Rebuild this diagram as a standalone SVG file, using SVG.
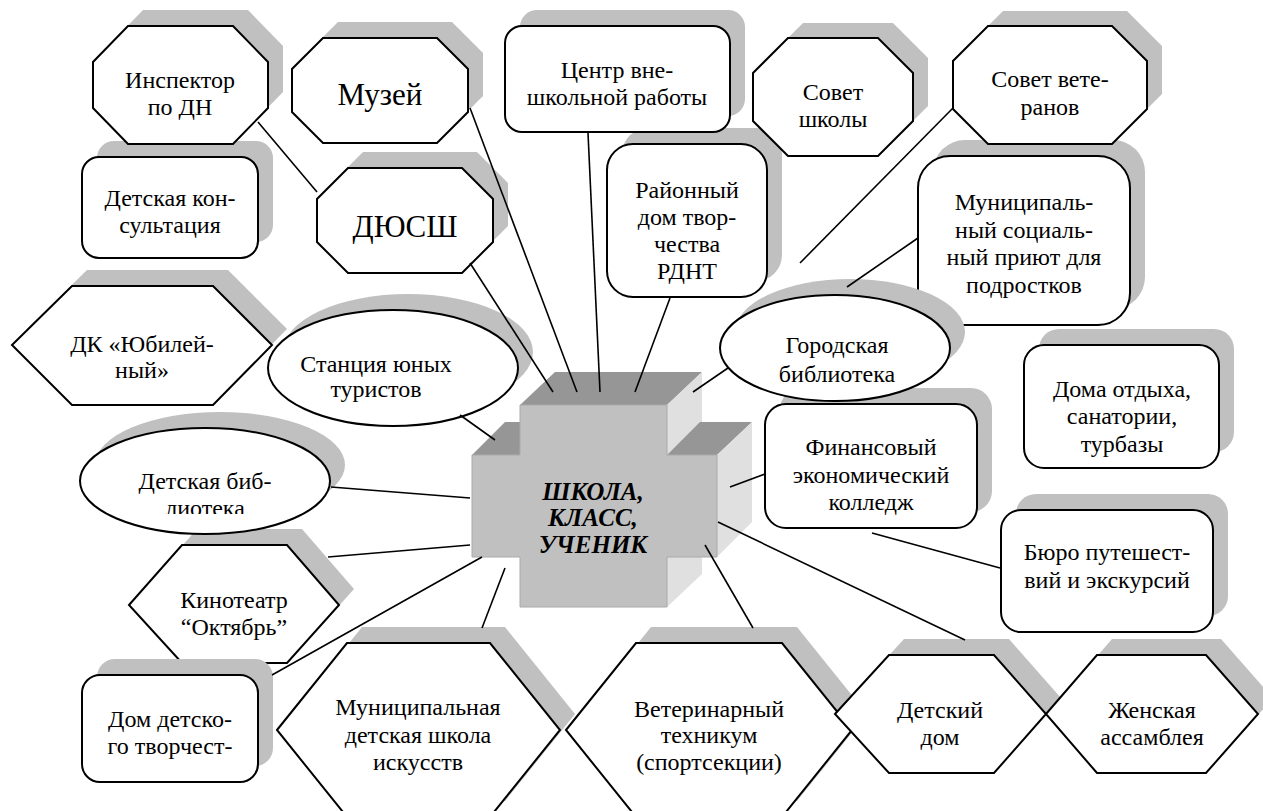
<svg xmlns="http://www.w3.org/2000/svg" width="1263" height="811" viewBox="0 0 1263 811">
<style>
.sh{fill:#c0c0c0;stroke:none}
.nd{fill:#fff;stroke:#000;stroke-width:2}
.t{font-family:'Liberation Serif','Times New Roman','DejaVu Serif',serif;font-size:24px;text-anchor:middle;fill:#000}
.big{font-size:31px}
.ct{font-family:'Liberation Serif','Times New Roman','DejaVu Serif',serif;font-size:25px;font-weight:bold;font-style:italic;text-anchor:middle;fill:#000}
.con line{stroke:#000;stroke-width:1.6}
.front{fill:#c0c0c0;stroke:#aaa;stroke-width:1}
.top{fill:#969696}
.side{fill:#e0e0e0}
</style>
<defs>
<clipPath id="clipLib"><rect x="0" y="0" width="400" height="514"/></clipPath>
</defs>
<rect width="1263" height="811" fill="#fff"/>

<g id="rdnt">
<rect class="sh" x="622" y="128" width="160" height="153" rx="26"/>
<rect class="nd" x="607" y="144" width="160" height="153" rx="26"/>
<text class="t"><tspan x="687" y="198">Районный</tspan><tspan x="687" y="225">дом твор-</tspan><tspan x="687" y="252">чества</tspan><tspan x="687" y="279">РДНТ</tspan></text>
</g>
<g id="centr">
<rect class="sh" x="520" y="10" width="225" height="106" rx="17"/>
<rect class="nd" x="505" y="26" width="225" height="106" rx="17"/>
<text class="t"><tspan x="617" y="78">Центр вне-</tspan><tspan x="617" y="105">школьной работы</tspan></text>
</g>
<g id="priyut">
<rect class="sh" x="933" y="140" width="212" height="169" rx="32"/>
<rect class="nd" x="918" y="156" width="212" height="169" rx="32"/>
<text class="t"><tspan x="1024" y="210">Муниципаль-</tspan><tspan x="1024" y="238">ный социаль-</tspan><tspan x="1024" y="265">ный приют для</tspan><tspan x="1024" y="293">подростков</tspan></text>
</g>
<g id="sovet-veteranov">
<polygon class="sh" points="1003,11 1127,11 1162,46 1162,94 1127,129 1003,129 968,94 968,46"/>
<polygon class="nd" points="988,26 1112,26 1147,61 1147,109 1112,144 988,144 953,109 953,61"/>
<text class="t"><tspan x="1050" y="87">Совет вете-</tspan><tspan x="1050" y="115">ранов</tspan></text>
</g>
<g id="konsultaciya">
<rect class="sh" x="97" y="141" width="176" height="101" rx="17"/>
<rect class="nd" x="82" y="157" width="176" height="101" rx="17"/>
<text class="t"><tspan x="170" y="206">Детская кон-</tspan><tspan x="170" y="233">сультация</tspan></text>
</g>
<g id="inspektor">
<polygon class="sh" points="143,10 248,10 283,46 283,92 248,128 143,128 108,92 108,46"/>
<polygon class="nd" points="128,26 233,26 268,62 268,108 233,144 128,144 93,108 93,62"/>
<text class="t"><tspan x="180" y="88">Инспектор</tspan><tspan x="180" y="115">по ДН</tspan></text>
</g>
<g id="muzey">
<polygon class="sh" points="338,22 452,22 483,53 483,96 452,127 338,127 307,96 307,53"/>
<polygon class="nd" points="323,38 437,38 468,69 468,112 437,143 323,143 292,112 292,69"/>
<text class="t big" x="380" y="105">Музей</text>
</g>
<g id="dyussh">
<polygon class="sh" points="363,152 477,152 508,183 508,226 477,257 363,257 332,226 332,183"/>
<polygon class="nd" points="348,168 462,168 493,199 493,242 462,273 348,273 317,242 317,199"/>
<text class="t big" x="405" y="237">ДЮСШ</text>
</g>
<g id="sovet-shkoly">
<polygon class="sh" points="803,23 893,23 928,58 928,106 893,141 803,141 768,106 768,58"/>
<polygon class="nd" points="788,38 878,38 913,73 913,121 878,156 788,156 753,121 753,73"/>
<text class="t"><tspan x="833" y="100">Совет</tspan><tspan x="833" y="127">школы</tspan></text>
</g>
<g id="dk">
<polygon class="sh" points="27,329 87,270 228,270 287,329 228,389 87,389"/>
<polygon class="nd" points="12,345 72,286 213,286 272,345 213,405 72,405"/>
<text class="t"><tspan x="142" y="352">ДК «Юбилей-</tspan><tspan x="142" y="378">ный»</tspan></text>
</g>
<g id="kinoteatr">
<polygon class="sh" points="144,589 197,529 302,529 354,589 302,647 197,647"/>
<polygon class="nd" points="129,605 182,545 287,545 339,605 287,663 182,663"/>
<text class="t"><tspan x="234" y="608">Кинотеатр</tspan><tspan x="234" y="635">“Октябрь”</tspan></text>
</g>
<g id="det-biblioteka">
<ellipse class="sh" cx="220" cy="465" rx="125" ry="53"/>
<ellipse class="nd" cx="205" cy="481" rx="125" ry="53"/>
<text class="t" clip-path="url(#clipLib)"><tspan x="205" y="489">Детская биб-</tspan><tspan x="205" y="516">лиотека</tspan></text>
</g>
<g id="stanciya">
<ellipse class="sh" cx="408" cy="352" rx="125" ry="58"/>
<ellipse class="nd" cx="393" cy="368" rx="125" ry="58"/>
<text class="t"><tspan x="376" y="372">Станция юных</tspan><tspan x="376" y="397">туристов</tspan></text>
</g>
<g id="dom-tvorchestva">
<rect class="sh" x="97" y="659" width="176" height="107" rx="18"/>
<rect class="nd" x="82" y="675" width="176" height="107" rx="18"/>
<text class="t"><tspan x="170" y="727">Дом детско-</tspan><tspan x="170" y="754">го творчест-</tspan></text>
</g>
<g id="shkola-iskusstv">
<polygon class="sh" points="292,714 362,627 505,627 575,714 505,801 362,801"/>
<polygon class="nd" points="277,730 347,643 490,643 560,730 490,817 347,817"/>
<text class="t"><tspan x="418" y="715">Муниципальная</tspan><tspan x="418" y="743">детская школа</tspan><tspan x="418" y="770">искусств</tspan></text>
</g>
<g id="veterinarny">
<polygon class="sh" points="581,714 651,627 797,627 867,714 797,801 651,801"/>
<polygon class="nd" points="566,730 636,643 782,643 852,730 782,817 636,817"/>
<text class="t"><tspan x="709" y="717">Ветеринарный</tspan><tspan x="709" y="743">техникум</tspan><tspan x="709" y="770">(спортсекции)</tspan></text>
</g>
<g id="detsky-dom">
<polygon class="sh" points="850,698 904,639 1009,639 1061,698 1009,757 904,757"/>
<polygon class="nd" points="835,714 889,655 994,655 1046,714 994,773 889,773"/>
<text class="t"><tspan x="940" y="718">Детский</tspan><tspan x="940" y="745">дом</tspan></text>
</g>
<g id="zhenskaya">
<polygon class="sh" points="1061,698 1112,639 1221,639 1273,698 1221,757 1112,757"/>
<polygon class="nd" points="1046,714 1097,655 1206,655 1258,714 1206,773 1097,773"/>
<text class="t"><tspan x="1152" y="718">Женская</tspan><tspan x="1152" y="745">ассамблея</tspan></text>
</g>
<g id="finansovy">
<rect class="sh" x="780" y="388" width="212" height="124" rx="21"/>
<rect class="nd" x="765" y="404" width="212" height="124" rx="21"/>
<text class="t"><tspan x="871" y="455">Финансовый</tspan><tspan x="871" y="483">экономический</tspan><tspan x="871" y="510">колледж</tspan></text>
</g>
<g id="gorodskaya">
<ellipse class="sh" cx="850" cy="332" rx="115" ry="53"/>
<ellipse class="nd" cx="835" cy="348" rx="115" ry="53"/>
<text class="t"><tspan x="837" y="353">Городская</tspan><tspan x="837" y="382">библиотека</tspan></text>
</g>
<g id="doma-otdyha">
<rect class="sh" x="1039" y="329" width="195" height="123" rx="20"/>
<rect class="nd" x="1024" y="345" width="195" height="123" rx="20"/>
<text class="t"><tspan x="1122" y="397">Дома отдыха,</tspan><tspan x="1122" y="424">санатории,</tspan><tspan x="1122" y="452">турбазы</tspan></text>
</g>
<g id="byuro">
<rect class="sh" x="1016" y="494" width="212" height="122" rx="20"/>
<rect class="nd" x="1001" y="510" width="212" height="122" rx="20"/>
<text class="t"><tspan x="1107" y="560">Бюро путешест-</tspan><tspan x="1107" y="588">вий и экскурсий</tspan></text>
</g>
<g id="shkola">
<polygon class="top" points="520,405 555,372 702,372 667,405"/>
<polygon class="side" points="667,405 702,372 702,422 667,455"/>
<polygon class="top" points="472,455 505,422 520,422 520,455"/>
<polygon class="top" points="667,455 700,422 752,422 717,455"/>
<polygon class="side" points="717,455 752,422 752,522 717,557"/>
<polygon class="side" points="667,557 702,557 702,574 667,607"/>
<polygon class="front" points="520,405 667,405 667,455 717,455 717,557 667,557 667,607 520,607 520,557 472,557 472,455 520,455"/>
<text class="ct"><tspan x="593" y="500">ШКОЛА,</tspan><tspan x="593" y="526">КЛАСС,</tspan><tspan x="593" y="553">УЧЕНИК</tspan></text>
</g>
<g id="connectors" class="con">
<line x1="258" y1="122" x2="317" y2="192"/>
<line x1="470" y1="108" x2="577" y2="392"/>
<line x1="470" y1="263" x2="553" y2="392"/>
<line x1="588" y1="133" x2="600" y2="392"/>
<line x1="670" y1="298" x2="635" y2="392"/>
<line x1="728" y1="368" x2="693" y2="392"/>
<line x1="953" y1="108" x2="800" y2="263"/>
<line x1="918" y1="238" x2="847" y2="287"/>
<line x1="460" y1="415" x2="495" y2="440"/>
<line x1="331" y1="487" x2="470" y2="498"/>
<line x1="328" y1="557" x2="470" y2="545"/>
<line x1="272" y1="675" x2="482" y2="557"/>
<line x1="482" y1="628" x2="505" y2="568"/>
<line x1="705" y1="545" x2="753" y2="628"/>
<line x1="718" y1="522" x2="965" y2="640"/>
<line x1="730" y1="487" x2="765" y2="474"/>
<line x1="872" y1="533" x2="1000" y2="568"/>
</g>
</svg>
